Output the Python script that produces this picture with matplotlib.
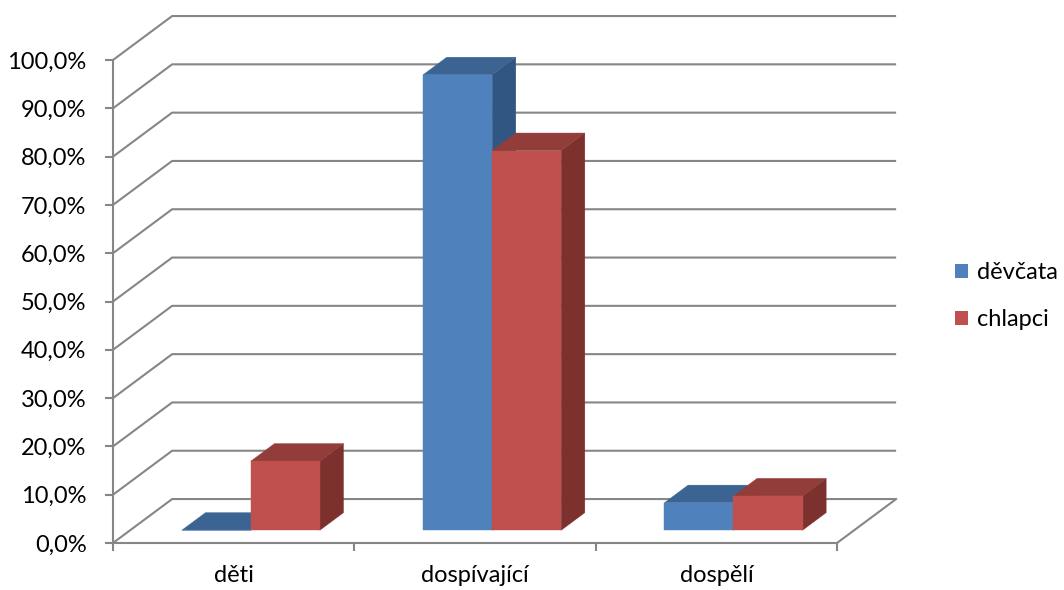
import matplotlib
matplotlib.use("Agg")
import matplotlib.pyplot as plt
from matplotlib.patches import Polygon, Patch
from matplotlib.ticker import FuncFormatter

plt.rcParams["font.family"] = ["Lato", "DejaVu Sans"]

categories = ["děti", "dospívající", "dospělí"]
series_names = ["děvčata", "chlapci"]
devcata = [0.0, 94.3, 5.7]
chlapci = [14.3, 78.6, 7.1]

# front / top / side shades for each series
face_colors = {
    "děvčata": ("#4F81BD", "#3C6493", "#325682"),
    "chlapci": ("#C0504D", "#933D3B", "#7D312F"),
}
grid_color = "#868686"

# oblique offset of the full floor depth, in data units
DEPTH_X = 0.245
DEPTH_Y = 9.1
BAR_D0, BAR_D1 = 0.29, 0.69
BAR_W = 0.286


def proj(x, v, d):
    return (x + d * DEPTH_X, v + d * DEPTH_Y)


def draw_bar(ax, left, h, colors):
    front, top, side = colors
    r = left + BAR_W
    pts_side = [proj(r, 0, BAR_D0), proj(r, h, BAR_D0), proj(r, h, BAR_D1), proj(r, 0, BAR_D1)]
    pts_top = [proj(left, h, BAR_D0), proj(r, h, BAR_D0), proj(r, h, BAR_D1), proj(left, h, BAR_D1)]
    pts_front = [proj(left, 0, BAR_D0), proj(r, 0, BAR_D0), proj(r, h, BAR_D0), proj(left, h, BAR_D0)]
    for pts, c in ((pts_side, side), (pts_top, top), (pts_front, front)):
        ax.add_patch(Polygon(pts, closed=True, facecolor=c, edgecolor=c,
                             lw=0.3, zorder=3, clip_on=False))


fig = plt.figure(figsize=(10.64, 5.9), dpi=100)
ax = fig.add_axes([113 / 1064, 47 / 590, 724 / 1064, 483 / 590])
ax.set_xlim(0, len(categories))
ax.set_ylim(0, 100)
ax.patch.set_visible(False)

# walls: diagonal lines on the side wall and horizontals on the back wall
yticks = list(range(0, 101, 10))
n = len(categories)
for v in yticks:
    x0, y0 = proj(0, v, 0)
    x1, y1 = proj(0, v, 1)
    x2, y2 = proj(n, v, 1)
    ax.plot([x0, x1, x2], [y0, y1, y2], color=grid_color, lw=1.5,
            zorder=1, clip_on=False, solid_capstyle="butt")
# right edge of the floor
fx0, fy0 = proj(n, 0, 0)
fx1, fy1 = proj(n, 0, 1)
ax.plot([fx0, fx1], [fy0, fy1], color=grid_color, lw=1.5, zorder=1, clip_on=False)

gap = (1 - 2 * BAR_W) / 2
for i in range(n):
    for j, (name, vals) in enumerate(zip(series_names, [devcata, chlapci])):
        draw_bar(ax, i + gap + j * BAR_W, vals[i], face_colors[name])

for side in ("top", "right"):
    ax.spines[side].set_visible(False)
for side in ("left", "bottom"):
    ax.spines[side].set_color(grid_color)
    ax.spines[side].set_linewidth(1.5)
    ax.spines[side].set_zorder(2)

ax.set_yticks(yticks)
ax.yaxis.set_major_formatter(FuncFormatter(lambda v, p: f"{v:.1f}%".replace(".", ",")))
ax.tick_params(axis="y", direction="out", length=6, width=1.5, color=grid_color,
               labelsize=17, pad=13, labelcolor="black")

ax.set_xticks(range(n + 1))
ax.set_xticklabels([])
ax.set_xticks([i + 0.5 for i in range(n)], minor=True)
ax.set_xticklabels(categories, minor=True)
ax.tick_params(axis="x", which="major", direction="out", length=6, width=1.5, color=grid_color)
ax.tick_params(axis="x", which="minor", length=0, labelsize=17, pad=16, labelcolor="black")

handles = [Patch(facecolor=face_colors[s][0], edgecolor="none") for s in series_names]
fig.legend(handles, series_names, loc="center left", bbox_to_anchor=(934 / 1064, 1 - 296 / 590),
           frameon=False, fontsize=17, handlelength=0.55, handleheight=0.55,
           handletextpad=0.35, labelspacing=1.1)

fig.savefig("out.png", dpi=100)
